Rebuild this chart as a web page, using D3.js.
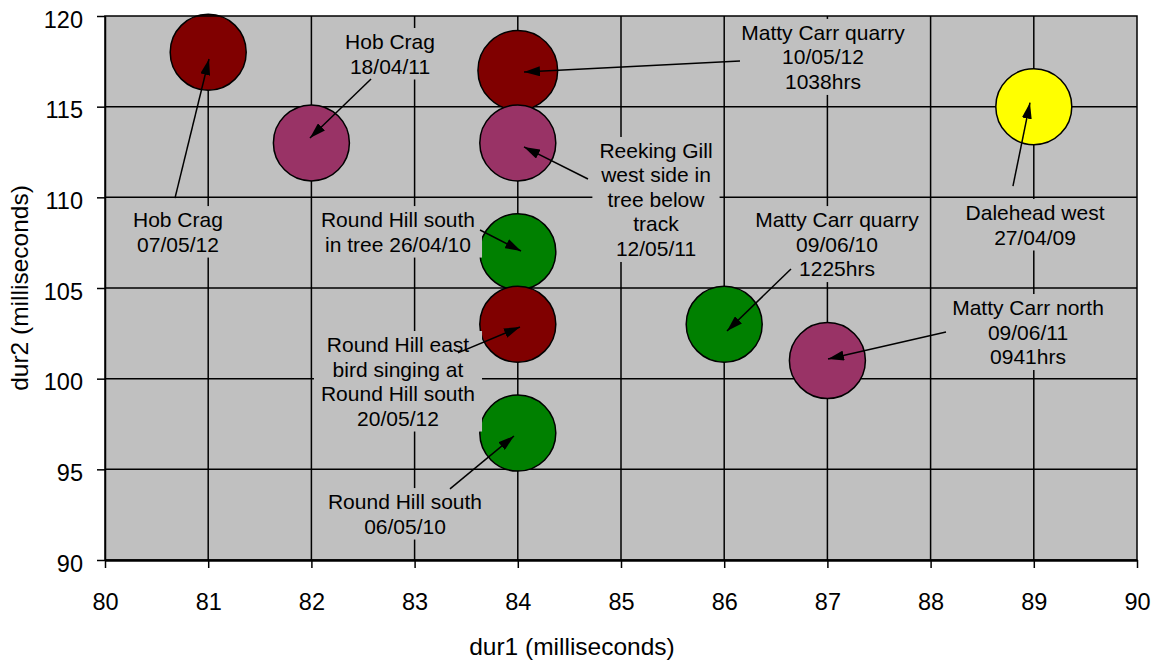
<!DOCTYPE html>
<html><head><meta charset="utf-8">
<script src="https://cdn.jsdelivr.net/npm/d3@7"></script>
<style>
body{margin:0;background:#fff}
svg{display:block}
text{font-family:"Liberation Sans", Arial, Helvetica, sans-serif; fill:#000}
</style>
</head><body>
<svg id="chart" width="1157" height="660"></svg>
<script>
// ---- data ----
const dur1 = [81, 82, 84, 84, 84, 84, 84, 86, 87, 89];
const dur2 = [118, 113, 117, 113, 107, 103, 97, 103, 101, 115];
const years = ["2012", "2011", "2012", "2011", "2010", "2012", "2010", "2010", "2011", "2009"];
const bubbleSize = [1, 1, 1.1, 1, 1, 1, 1, 1, 1, 1];
const labelLines = [
  ["Hob Crag", "07/05/12"],
  ["Hob Crag", "18/04/11"],
  ["Matty Carr quarry", "10/05/12", "1038hrs"],
  ["Reeking Gill", "west side in", "tree below", "track", "12/05/11"],
  ["Round Hill south", "in tree 26/04/10"],
  ["Round Hill east", "bird singing at", "Round Hill south", "20/05/12"],
  ["Round Hill south", "06/05/10"],
  ["Matty Carr quarry", "09/06/10", "1225hrs"],
  ["Matty Carr north", "09/06/11", "0941hrs"],
  ["Dalehead west", "27/04/09"]
];
// label anchor (centre x, first baseline) in data units
const labelX = [80.707, 82.762, 86.957, 85.339, 82.839, 82.839, 82.907, 87.093, 88.944, 89.012];
const labelY = [108.36, 118.18, 118.68, 112.17, 108.36, 101.47, 92.81, 108.36, 103.51, 108.75];
// arrow start / tip in data units
const arrowFromX = [80.678, 82.578, 86.153, 84.68, 83.634, 83.42, 83.343, 86.647, 88.149, 88.798];
const arrowFromY = [109.96, 116.53, 117.52, 111.01, 108.20, 101.42, 93.92, 106.05, 102.57, 110.62];
const arrowToX = [81.008, 81.986, 84.06, 84.06, 84.031, 84.021, 83.963, 86.027, 87.006, 88.963];
const arrowToY = [117.63, 113.27, 116.91, 112.78, 107.04, 102.85, 96.84, 102.63, 101.08, 115.22];
const xTickValues = [80, 81, 82, 83, 84, 85, 86, 87, 88, 89, 90];
const yTickValues = [90, 95, 100, 105, 110, 115, 120];
const xTitle = "dur1 (milliseconds)";
const yTitle = "dur2 (milliseconds)";
const yearOrder = ["2012", "2011", "2010", "2009"];

// ---- layout ----
const svg = d3.select("#chart");
const pLeft = 105, pRight = 1137, pTop = 16, pBottom = 560;
const x = d3.scaleLinear().domain([80, 90]).range([pLeft, pRight]);
const y = d3.scaleLinear().domain([90, 120]).range([pBottom, pTop]);
const r = d3.scaleSqrt().domain([0, 1]).range([0, 38]);
const color = d3.scaleOrdinal().domain(yearOrder).range(["#800000", "#993366", "#008000", "#FFFF00"]);

svg.append("rect").attr("x", pLeft).attr("y", pTop).attr("width", pRight - pLeft).attr("height", pBottom - pTop)
  .attr("fill", "#c0c0c0");

// gridlines
svg.append("g").selectAll("line").data(xTickValues.slice(1, -1)).join("line")
  .attr("x1", d => x(d)).attr("x2", d => x(d)).attr("y1", pTop).attr("y2", pBottom)
  .attr("stroke", "#000").attr("stroke-width", 1.5);
svg.append("g").selectAll("line").data(yTickValues.slice(1, -1)).join("line")
  .attr("x1", pLeft).attr("x2", pRight).attr("y1", d => y(d)).attr("y2", d => y(d))
  .attr("stroke", "#000").attr("stroke-width", 1.5);

const pts = dur1.map((d, i) => ({x: d, y: dur2[i], year: years[i], s: bubbleSize[i], i}));

// bubbles
svg.append("g").selectAll("circle").data(pts).join("circle")
  .attr("cx", d => x(d.x)).attr("cy", d => y(d.y)).attr("r", d => r(d.s))
  .attr("fill", d => color(d.year)).attr("stroke", "#000").attr("stroke-width", 1.5);

// labels with masking boxes
const fs = 21, lh = 24.5;
const lg = svg.append("g");
labelLines.forEach((lines, i) => {
  const g = lg.append("g");
  const rect = g.append("rect").attr("fill", "#c0c0c0");
  const t = g.append("text").attr("font-size", fs).attr("text-anchor", "middle");
  lines.forEach((ln, k) => {
    t.append("tspan").attr("x", x(labelX[i])).attr("y", y(labelY[i]) + k * lh).text(ln);
  });
  const bb = t.node().getBBox();
  rect.attr("x", bb.x - 7).attr("y", bb.y - 2).attr("width", bb.width + 14).attr("height", bb.height + 4);
});

// arrows
svg.append("defs").append("marker")
  .attr("id", "ah").attr("viewBox", "0 0 16 10").attr("refX", 16).attr("refY", 5)
  .attr("markerWidth", 16).attr("markerHeight", 10).attr("markerUnits", "userSpaceOnUse")
  .attr("orient", "auto")
  .append("path").attr("d", "M0,0L16,5L0,10Z").attr("fill", "#000");
svg.append("g").selectAll("line").data(d3.range(labelLines.length)).join("line")
  .attr("x1", i => x(arrowFromX[i])).attr("y1", i => y(arrowFromY[i]))
  .attr("x2", i => x(arrowToX[i])).attr("y2", i => y(arrowToY[i]))
  .attr("stroke", "#000").attr("stroke-width", 1.5).attr("marker-end", "url(#ah)");

// border
svg.append("rect").attr("x", pLeft).attr("y", pTop).attr("width", pRight - pLeft).attr("height", pBottom - pTop)
  .attr("fill", "none").attr("stroke", "#000").attr("stroke-width", 1.5);

// axes
const xAxis = svg.append("g").attr("transform", `translate(0,${pBottom})`)
  .call(d3.axisBottom(x).tickValues(xTickValues).tickSize(8).tickSizeOuter(0).tickFormat(d3.format("d")));
xAxis.select(".domain").attr("stroke", "#000").attr("stroke-width", 2.5);
xAxis.selectAll(".tick line").attr("stroke", "#000").attr("stroke-width", 1.5);
xAxis.selectAll(".tick text").attr("y", 50).attr("dy", 0).attr("font-size", 23.5)
  .attr("font-family", "Liberation Sans, Arial, sans-serif").attr("fill", "#000");

const yAxis = svg.append("g").attr("transform", `translate(${pLeft},0)`)
  .call(d3.axisLeft(y).tickValues(yTickValues).tickSize(8).tickSizeOuter(0).tickFormat(d3.format("d")));
yAxis.select(".domain").attr("stroke", "#000").attr("stroke-width", 1.5);
yAxis.selectAll(".tick line").attr("stroke", "#000").attr("stroke-width", 1.5);
yAxis.selectAll(".tick text").attr("x", -22).attr("dy", "0.48em").attr("font-size", 23.5)
  .attr("font-family", "Liberation Sans, Arial, sans-serif").attr("fill", "#000");

// titles
svg.append("text").attr("x", 572).attr("y", 655).attr("text-anchor", "middle")
  .attr("font-size", 24.5).text(xTitle);
svg.append("text").attr("transform", `translate(28,${(pTop + pBottom) / 2}) rotate(-90)`)
  .attr("text-anchor", "middle").attr("font-size", 24.5).text(yTitle);
</script>
</body></html>
